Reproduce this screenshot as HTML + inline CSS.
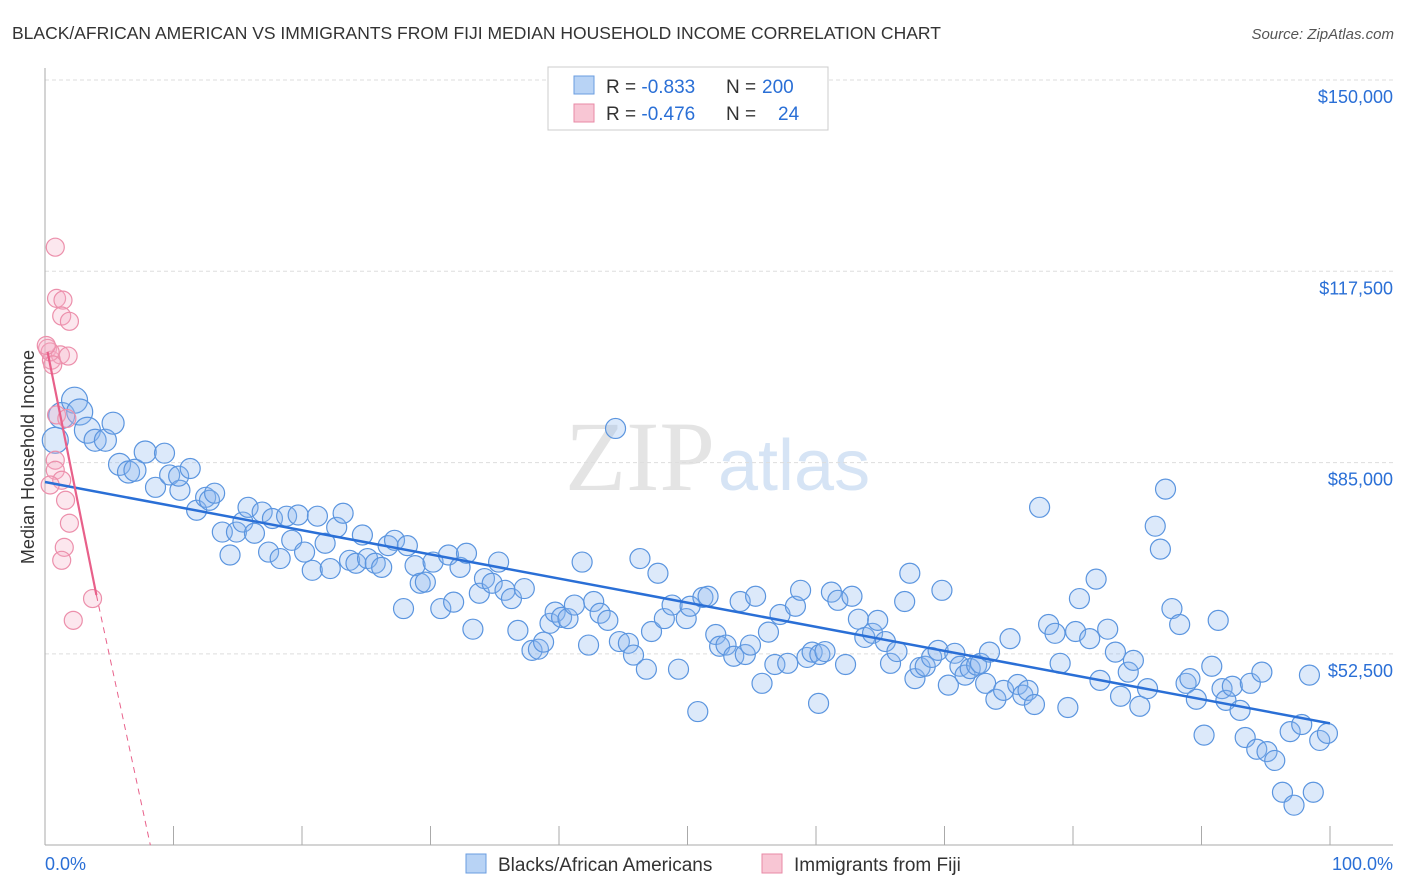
<!DOCTYPE html>
<html><head><meta charset="utf-8"><style>
body{margin:0;background:#fff;font-family:"Liberation Sans",sans-serif}
#wrap{position:relative;width:1406px;height:892px;overflow:hidden}
</style></head><body><div id="wrap">
<svg id="svg" width="1406" height="892" xmlns="http://www.w3.org/2000/svg">
<text x="12" y="39" font-size="17.5" fill="#333">BLACK/AFRICAN AMERICAN VS IMMIGRANTS FROM FIJI MEDIAN HOUSEHOLD INCOME CORRELATION CHART</text>
<text x="1394" y="39" font-size="15" fill="#555" font-style="italic" text-anchor="end">Source: ZipAtlas.com</text>
<text x="715" y="490" font-size="100" fill="#e4e4e4" text-anchor="end" font-family="Liberation Serif,serif">ZIP</text>
<text x="718" y="490" font-size="72" fill="#d6e4f5">atlas</text>
<text transform="translate(34,457) rotate(-90)" font-size="18" fill="#333" text-anchor="middle">Median Household Income</text>
<g id="grid"></g><g id="pts"></g><g id="lines"></g>
<g>
<rect x="548" y="67" width="280" height="63" fill="#fff" stroke="#ccc"/>
<rect x="574" y="76" width="20" height="18" fill="#b8d3f5" stroke="#6a9de0"/>
<rect x="574" y="104" width="20" height="18" fill="#f8c6d4" stroke="#e889a6"/>
<text x="606" y="93" font-size="19" fill="#333">R = <tspan fill="#2a6fd6">-0.833</tspan><tspan x="726">N =</tspan><tspan x="762" fill="#2a6fd6">200</tspan></text>
<text x="606" y="120" font-size="19" fill="#333">R = <tspan fill="#2a6fd6">-0.476</tspan><tspan x="726">N =</tspan><tspan x="778" fill="#2a6fd6">24</tspan></text>
</g>
<g>
<rect x="466" y="854" width="20" height="19" fill="#b8d3f5" stroke="#6a9de0"/>
<text x="498" y="871" font-size="19" fill="#333">Blacks/African Americans</text>
<rect x="762" y="854" width="20" height="19" fill="#f8c6d4" stroke="#e889a6"/>
<text x="794" y="871" font-size="19" fill="#333">Immigrants from Fiji</text>
</g>
<text x="45" y="870" font-size="18" fill="#2a6fd6">0.0%</text>
<text x="1393" y="870" font-size="18" fill="#2a6fd6" text-anchor="end">100.0%</text>
</svg></div>
<script>
const yTicks=[150000,117500,85000,52500];
const yTickLabels=["$150,000","$117,500","$85,000","$52,500"];
const xTicks=[0,10,20,30,40,50,60,70,80,90,100];
const blueX=[0.8,1.3,2.3,2.7,3.3,3.9,4.7,5.3,5.8,6.5,7.0,7.8,8.6,9.3,9.7,10.5,10.4,11.3,11.8,12.5,12.8,13.2,13.8,14.4,14.9,15.4,15.8,16.3,16.9,17.4,17.7,18.3,18.8,19.2,19.7,20.2,20.8,21.2,21.8,22.2,22.7,23.2,23.7,24.2,24.7,25.1,25.7,26.2,26.7,27.2,27.9,28.2,28.8,29.2,29.6,30.2,30.8,31.4,31.8,32.3,32.8,33.3,33.8,34.2,34.8,35.3,35.8,36.3,36.8,37.3,37.9,38.4,38.8,39.3,39.7,40.2,40.7,41.2,41.8,42.3,42.7,43.2,43.8,44.4,44.7,45.4,45.8,46.3,46.8,47.2,47.7,48.2,48.8,49.3,49.9,50.2,50.8,51.2,51.6,52.2,52.5,53.0,53.6,54.1,54.5,54.9,55.3,55.8,56.3,56.8,57.2,57.8,58.4,58.8,59.3,59.7,60.2,60.3,60.7,61.2,61.7,62.3,62.8,63.3,63.8,64.4,64.8,65.4,65.8,66.3,66.9,67.3,67.7,68.1,68.5,69.0,69.5,69.8,70.3,70.8,71.2,71.6,72.0,72.5,72.8,73.2,73.5,74.0,74.6,75.1,75.7,76.1,76.5,77.0,77.4,78.1,78.6,79.0,79.6,80.2,80.5,81.3,81.8,82.1,82.7,83.3,83.7,84.3,84.7,85.2,85.8,86.4,86.8,87.2,87.7,88.3,88.8,89.1,89.6,90.2,90.8,91.3,91.6,91.9,92.4,93.0,93.4,93.8,94.3,94.7,95.1,95.7,96.3,96.9,97.2,97.8,98.4,98.7,99.2,99.8];
const blueY=[88.8,93.0,95.6,93.6,90.5,88.8,88.8,91.7,84.7,83.4,83.7,86.8,80.8,86.6,82.9,80.3,82.7,84.0,76.9,79.1,78.6,79.8,73.2,69.3,73.2,74.9,77.4,73.0,76.6,69.8,75.5,68.7,75.9,71.8,76.1,69.8,66.7,75.9,71.3,67.0,74.0,76.4,68.4,67.9,72.7,68.7,67.9,67.2,70.9,71.8,60.2,70.9,67.5,64.5,64.7,68.1,60.2,69.3,61.3,67.2,69.6,56.7,62.8,65.3,64.5,68.1,63.3,61.9,56.5,63.6,53.1,53.3,54.5,57.7,59.6,58.7,58.5,60.8,68.1,54.0,61.4,59.4,58.2,90.8,54.6,54.3,52.3,68.7,49.9,56.3,66.2,58.5,60.8,49.9,58.5,60.6,42.7,62.1,62.3,55.8,53.8,54.0,52.1,61.4,52.4,54.0,62.3,47.5,56.2,50.7,59.2,50.9,60.6,63.3,51.9,52.8,44.1,52.4,52.9,63.0,61.6,50.7,62.3,58.4,55.3,56.0,58.2,54.6,50.9,52.9,61.4,66.2,48.3,50.2,50.4,51.9,53.1,63.3,47.2,52.6,50.4,48.9,50.0,50.6,50.9,47.5,52.8,44.8,46.3,55.1,47.3,45.5,46.3,43.9,77.4,57.5,56.0,50.9,43.4,56.3,61.9,55.1,65.2,48.0,56.7,52.8,45.3,49.4,51.4,43.6,46.6,74.2,70.3,80.5,60.2,57.5,47.5,48.3,44.8,38.7,50.4,58.2,46.6,44.6,47.0,42.9,38.3,47.5,36.3,49.4,35.9,34.4,29.0,39.3,26.8,40.5,48.9,29.0,37.8,39.0];
const pinkX=[0.8,0.9,1.4,1.3,1.9,0.2,0.5,1.2,1.8,0.4,0.6,0.9,1.7,0.8,0.8,1.3,1.6,1.9,1.5,1.3,3.7,2.2,0.4,0.1];
const pinkY=[121.6,112.9,112.6,109.9,109.0,104.4,102.4,103.3,103.1,103.8,101.6,93.1,92.5,85.4,83.7,82.0,78.6,74.7,70.6,68.4,61.9,58.2,81.2,104.9];
const blueTrend=[0,81.7,100,40.7];
const pinkTrend=[0.2,103.8,4.0,62.5,8.2,20.0];
const NS="http://www.w3.org/2000/svg";
const X=p=>45+p*12.85;
const Y=v=>80+(150-v)/32.5*191.3;
function mk(t,a,parent){const e=document.createElementNS(NS,t);for(const k in a)e.setAttribute(k,a[k]);parent.appendChild(e);return e;}
const grid=document.getElementById('grid'),pts=document.getElementById('pts'),lines=document.getElementById('lines');
yTicks.forEach((v,i)=>{
 const l=mk('line',{x1:45,x2:1393,y1:Y(v/1000),y2:Y(v/1000),stroke:'#ddd','stroke-dasharray':'4,3'},grid);
 
 
 const t=mk('text',{x:1393,y:Y(v/1000)+23,'font-size':18,fill:'#2a6fd6','text-anchor':'end'},grid);
 t.textContent=yTickLabels[i];
 
 
});
const ax=mk('line',{x1:45,x2:1393,y1:845,y2:845,stroke:'#aaa'},grid);


const ay=mk('line',{x1:45,x2:45,y1:68,y2:845,stroke:'#aaa'},grid);


xTicks.forEach(p=>{
 const t=mk('line',{x1:X(p),x2:X(p),y1:826,y2:845,stroke:'#aaa'},grid);
 
 
});
blueX.forEach((p,i)=>{
 const r=i<5?13:(i<12?11:10);
 const c=mk('circle',{cx:X(p),cy:Y(blueY[i]),r:r,fill:'rgba(140,182,238,0.3)',stroke:'#5b95df','stroke-width':1.2},pts);
 
 
});
pinkX.forEach((p,i)=>{
 const c=mk('circle',{cx:X(p),cy:Y(pinkY[i]),r:9,fill:'rgba(245,175,198,0.3)',stroke:'#ec8fab','stroke-width':1.2},pts);
 
 
});
const bl=mk('line',{x1:X(blueTrend[0]),y1:Y(blueTrend[1]),x2:X(blueTrend[2]),y2:Y(blueTrend[3]),stroke:'#2a6fd6','stroke-width':2.5},lines);


const pl=mk('line',{x1:X(pinkTrend[0]),y1:Y(pinkTrend[1]),x2:X(pinkTrend[2]),y2:Y(pinkTrend[3]),stroke:'#e8608a','stroke-width':2.2},lines);


const pd=mk('line',{x1:X(pinkTrend[2]),y1:Y(pinkTrend[3]),x2:X(pinkTrend[4]),y2:Y(pinkTrend[5]),stroke:'#e8608a','stroke-width':1,'stroke-dasharray':'6,5'},lines);


</script></body></html>
